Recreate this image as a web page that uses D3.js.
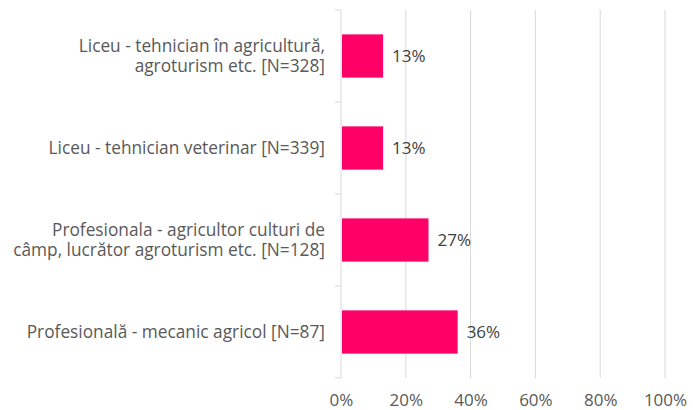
<!DOCTYPE html>
<html>
<head>
<meta charset="utf-8">
<script src="https://cdn.jsdelivr.net/npm/d3@7/dist/d3.min.js"></script>
<style>
  html, body { margin: 0; padding: 0; background: #fff; }
  svg text { font-family: "Open Sans", "Noto Sans", sans-serif; }
</style>
</head>
<body>
<svg id="chart" width="693" height="410"></svg>
<script>
// Categories (top to bottom); "\n" marks a manual line break
const categories = [
  "Liceu - tehnician în agricultură,\nagroturism etc. [N=328]",
  "Liceu - tehnician veterinar [N=339]",
  "Profesionala - agricultor culturi de\ncâmp, lucrător agroturism etc. [N=128]",
  "Profesională - mecanic agricol [N=87]"
];
// Share of respondents, percent
const values = [13, 13, 27, 36];
// X axis ticks, percent
const xTicks = [0, 20, 40, 60, 80, 100];

const svg = d3.select("#chart");
const margin = { top: 10, left: 341, right: 28, bottom: 32 };
const W = 693, H = 410;

const x = d3.scaleLinear().domain([0, 100]).range([margin.left, W - margin.right]);
const y = d3.scaleBand().domain(d3.range(categories.length))
  .range([margin.top, H - margin.bottom]).paddingInner(0.53).paddingOuter(0.265);
const yOuter = d3.scaleBand().domain(d3.range(categories.length))
  .range([margin.top, H - margin.bottom]);

const gridColor = "#d9d9d9";
const textColor = "#595959";

// vertical gridlines
svg.append("g").selectAll("line").data(xTicks.slice(1)).join("line")
  .attr("x1", d => x(d)).attr("x2", d => x(d))
  .attr("y1", margin.top).attr("y2", H - margin.bottom)
  .attr("stroke", gridColor).attr("stroke-width", 1);

// category axis line with separator ticks
const yAxisX = x(0);
svg.append("line")
  .attr("x1", yAxisX).attr("x2", yAxisX)
  .attr("y1", margin.top).attr("y2", H - margin.bottom)
  .attr("stroke", gridColor).attr("stroke-width", 1);
const bounds = categories.map((_, i) => yOuter(i)).concat([H - margin.bottom]);
svg.append("g").selectAll("line").data(bounds).join("line")
  .attr("x1", yAxisX - 6).attr("x2", yAxisX)
  .attr("y1", d => d).attr("y2", d => d)
  .attr("stroke", gridColor).attr("stroke-width", 1);

// bars
svg.append("g").selectAll("rect").data(values).join("rect")
  .attr("x", x(0) + 1)
  .attr("y", (d, i) => y(i))
  .attr("width", d => x(d) - x(0) - 1)
  .attr("height", y.bandwidth())
  .attr("fill", "#ff0066");

// value labels
svg.append("g").selectAll("text").data(values).join("text")
  .attr("x", d => x(d) + 9)
  .attr("y", (d, i) => y(i) + y.bandwidth() / 2)
  .attr("dy", "0.35em")
  .attr("fill", "#404040")
  .attr("font-size", 17)
  .text(d => d + "%");

// category labels
const catG = svg.append("g");
categories.forEach((c, i) => {
  const lines = c.split("\n");
  const cy = y(i) + y.bandwidth() / 2;
  const lh = 20;
  const t = catG.append("text")
    .attr("text-anchor", "end")
    .attr("fill", textColor)
    .attr("font-size", 17.3);
  lines.forEach((ln, j) => {
    t.append("tspan")
      .attr("x", 325)
      .attr("y", cy + (j - (lines.length - 1) / 2) * lh)
      .attr("dy", "0.35em")
      .text(ln);
  });
});

// x axis tick labels
const xAxis = d3.axisBottom(x).tickValues(xTicks).tickFormat(d => d + "%").tickSize(0).tickPadding(0);
const gx = svg.append("g").attr("transform", `translate(0, ${H - 4.5})`).call(xAxis);
gx.select(".domain").remove();
gx.selectAll("text")
  .attr("dy", null).attr("y", 0)
  .attr("fill", textColor)
  .attr("font-size", 17)
  .style("font-family", "'Open Sans', 'Noto Sans', sans-serif");
</script>
</body>
</html>
